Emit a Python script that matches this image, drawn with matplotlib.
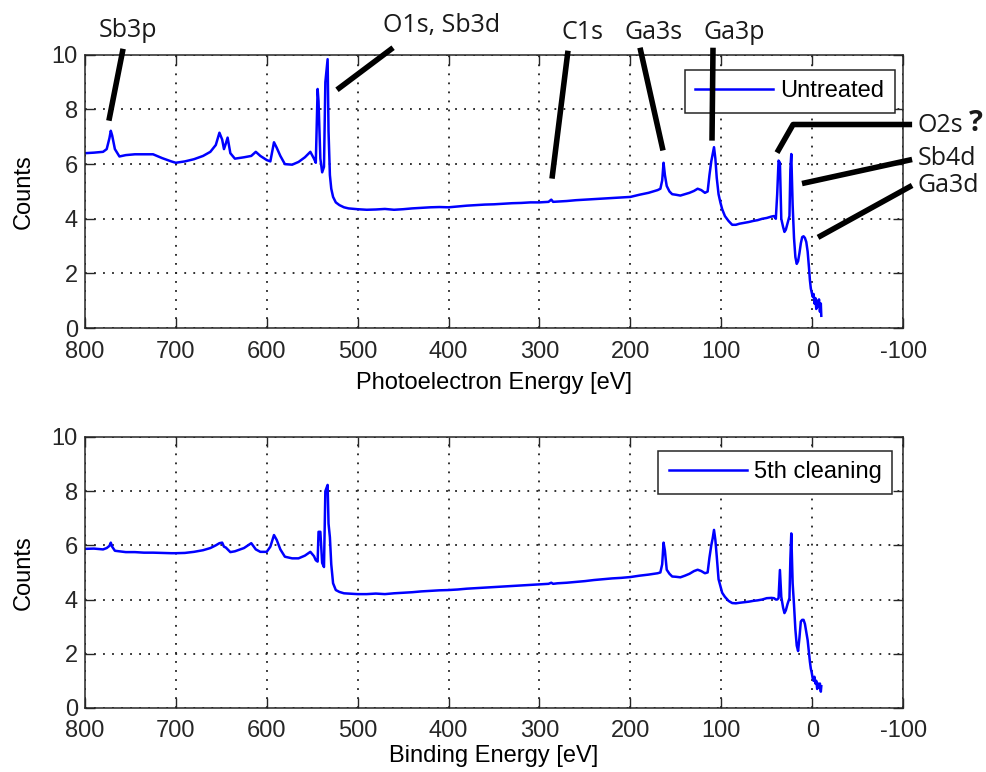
import matplotlib
matplotlib.use('Agg')
import matplotlib.pyplot as plt

plt.rcParams['font.family'] = 'Liberation Sans'
plt.rcParams['font.size'] = 17
plt.rcParams['axes.unicode_minus'] = False

# shared energy grid (eV)
energy = [800, 790, 780, 776, 773, 771.5, 770, 767, 762, 755, 745, 735, 725, 715, 705, 700,
          690, 680, 670, 662, 656, 652, 649, 647, 645, 643, 640, 635, 625, 617, 612, 607,
          600, 596, 592, 589, 585, 580, 572, 565, 558, 552, 548, 546, 544, 543, 541, 539,
          537, 535.5, 533, 532, 530.5, 529, 527, 524, 520, 515, 510, 500, 490, 480, 470, 460,
          450, 440, 430, 420, 410, 400, 390, 380, 370, 360, 350, 340, 330, 320, 310, 300,
          290, 287, 285, 280, 270, 260, 250, 240, 230, 220, 210, 200, 190, 180, 170, 167,
          165, 163.5, 162, 160, 157, 154, 150, 145, 140, 135, 130, 126, 122, 118, 115, 113,
          111, 109.5, 108, 106.5, 105, 103, 101, 99, 96, 92, 88, 84, 80, 75, 70, 65,
          60, 55, 50, 45, 42, 40, 38.5, 37, 35.5, 34, 32, 30.5, 29, 27, 25, 24,
          23, 21.5, 20, 18.5, 17, 15.5, 14, 12.5, 11, 9.5, 8, 6.5, 5, 3.5, 2.5, 1.5,
          0.5, -0.5, -1.5, -2.5, -3.5, -4.5, -5.5, -6.5, -7.5, -8.5, -9.5, -10]

untreated = [6.40, 6.42, 6.45, 6.55, 6.95, 7.22, 7.05, 6.55, 6.28, 6.33, 6.36, 6.36, 6.36, 6.22, 6.10, 6.05,
             6.10, 6.18, 6.30, 6.45, 6.70, 7.15, 6.90, 6.55, 6.75, 6.97, 6.40, 6.20, 6.25, 6.30, 6.45, 6.30,
             6.15, 6.10, 6.80, 6.60, 6.30, 6.00, 5.98, 6.08, 6.25, 6.45, 6.20, 6.05, 8.75, 8.30, 6.20, 5.70,
             5.90, 9.00, 9.84, 7.20, 5.60, 5.10, 4.80, 4.60, 4.50, 4.42, 4.38, 4.35, 4.33, 4.34, 4.36, 4.33,
             4.35, 4.38, 4.40, 4.42, 4.43, 4.42, 4.45, 4.48, 4.50, 4.52, 4.53, 4.55, 4.57, 4.58, 4.60, 4.60,
             4.62, 4.70, 4.62, 4.63, 4.65, 4.68, 4.70, 4.72, 4.74, 4.76, 4.78, 4.80, 4.88, 4.95, 5.05, 5.10,
             5.40, 6.05, 5.60, 5.20, 5.00, 4.90, 4.88, 4.85, 4.90, 4.95, 5.02, 5.10, 5.05, 4.95, 5.00, 5.60,
             6.10, 6.35, 6.62, 6.20, 5.50, 4.90, 4.60, 4.35, 4.10, 3.92, 3.78, 3.78, 3.82, 3.85, 3.88, 3.92,
             3.95, 4.00, 4.03, 4.08, 4.10, 4.00, 4.90, 6.13, 6.05, 4.00, 3.70, 3.52, 3.60, 3.85, 4.10, 5.80,
             6.37, 4.50, 3.30, 2.60, 2.35, 2.45, 2.75, 3.10, 3.33, 3.36, 3.30, 3.15, 2.80, 2.20, 1.75, 1.45,
             1.30, 1.15, 1.25, 0.90, 1.10, 0.70, 1.00, 0.80, 1.05, 0.60, 0.90, 0.45]

cleaned = [5.87, 5.88, 5.85, 5.90, 5.98, 6.10, 5.95, 5.80, 5.78, 5.75, 5.75, 5.73, 5.73, 5.72, 5.71, 5.71,
           5.72, 5.76, 5.82, 5.90, 6.00, 6.08, 6.10, 5.95, 5.92, 5.85, 5.75, 5.78, 5.90, 6.08, 5.85, 5.76,
           5.76, 5.95, 6.38, 6.20, 5.85, 5.58, 5.52, 5.52, 5.62, 5.76, 5.60, 5.45, 5.40, 6.50, 6.50, 5.35,
           5.20, 8.00, 8.23, 6.80, 6.30, 5.30, 4.60, 4.35, 4.28, 4.23, 4.22, 4.20, 4.20, 4.22, 4.20, 4.23,
           4.25, 4.27, 4.30, 4.32, 4.34, 4.35, 4.37, 4.40, 4.42, 4.44, 4.46, 4.48, 4.50, 4.52, 4.54, 4.56,
           4.58, 4.62, 4.58, 4.60, 4.62, 4.65, 4.68, 4.72, 4.75, 4.78, 4.80, 4.83, 4.88, 4.92, 4.97, 5.00,
           5.30, 6.10, 5.80, 5.10, 4.95, 4.85, 4.84, 4.82, 4.88, 4.95, 5.05, 5.10, 5.05, 4.97, 5.00, 5.55,
           6.00, 6.25, 6.57, 6.20, 5.60, 4.75, 4.50, 4.25, 4.10, 3.95, 3.87, 3.86, 3.88, 3.90, 3.92, 3.95,
           3.97, 4.00, 4.05, 4.06, 4.05, 4.00, 4.00, 4.05, 5.09, 4.10, 3.70, 3.50, 3.60, 3.85, 4.05, 5.50,
           6.44, 4.60, 3.80, 2.90, 2.30, 2.10, 2.60, 3.19, 3.25, 3.25, 3.10, 2.80, 2.50, 2.00, 1.70, 1.45,
           1.30, 1.10, 1.00, 1.15, 0.90, 1.00, 0.70, 0.90, 0.75, 0.90, 0.60, 0.80]

xticks = [800, 700, 600, 500, 400, 300, 200, 100, 0, -100]
yticks = [0, 2, 4, 6, 8, 10]

# peak labels: text, text position, leader line (energy, counts) points
labels = ['Sb3p', 'O1s, Sb3d', 'C1s', 'Ga3s', 'Ga3p']
label_pos = [(753, 10.88), (408, 11.09), (253, 10.8), (175, 10.8), (86, 10.8)]
leaders = [[(758, 10.22), (773.6, 7.59)],
           [(461, 10.26), (522.7, 8.72)],
           [(268.6, 10.15), (286.2, 5.47)],
           [(189.4, 10.26), (164.1, 6.5)],
           [(109.1, 10.26), (110.2, 6.86)]]
side_labels = ['O2s', 'Sb4d', 'Ga3d']
side_pos = [(-115.4, 7.41), (-116.5, 6.2), (-115.4, 5.22)]
side_leaders = [[(-109.9, 7.45), (21.0, 7.45), (38.7, 6.42)],
                [(-109.9, 6.17), (11.2, 5.29)],
                [(-109.9, 5.22), (-6.4, 3.32)]]

fig = plt.figure(figsize=(9.87, 7.72), dpi=100)
ax1 = fig.add_axes([0.086, 0.575, 0.829, 0.354])
ax2 = fig.add_axes([0.086, 0.083, 0.829, 0.351])

for ax, counts, name, xlabel, anchor, lpad in [
        (ax1, untreated, 'Untreated', 'Photoelectron Energy [eV]', (0.99, 0.945), 7),
        (ax2, cleaned, '5th cleaning', 'Binding Energy [eV]', (0.987, 0.949), 2)]:
    ax.plot(energy, counts, color='#0000ff', lw=1.8, label=name)
    ax.set_xlim(800, -100)
    ax.set_ylim(0, 10)
    ax.set_xticks(xticks)
    ax.set_yticks(yticks)
    ax.set_xlabel(xlabel, labelpad=lpad)
    ax.set_ylabel('Counts', labelpad=12)
    ax.grid(True, color='#202020', linestyle=(0, (1, 4)), linewidth=1.3)
    ax.tick_params(direction='in', length=7, width=1, top=True, right=True, colors='#262626')
    ax.tick_params(axis='x', pad=9)
    ax.tick_params(axis='y', pad=5)
    for s in ax.spines.values():
        s.set_color('#262626')
        s.set_linewidth(1.1)
    leg = ax.legend(loc='upper right', bbox_to_anchor=anchor, borderaxespad=0, fancybox=False,
                    framealpha=1, edgecolor='#262626', handlelength=3.3, handletextpad=0.3,
                    borderpad=0.45, fontsize=17)
    leg.get_frame().set_linewidth(1.1)
    leg.set_zorder(5)

txt = dict(family='Open Sans', fontsize=18, color='#1a1a1a', zorder=12)
for lab, pos, pts in zip(labels, label_pos, leaders):
    ax1.text(pos[0], pos[1], lab, ha='center', va='center', clip_on=False, **txt)
    ax1.plot([p[0] for p in pts], [p[1] for p in pts], color='black', lw=4, clip_on=False,
             solid_capstyle='butt', zorder=10)
for lab, pos, pts in zip(side_labels, side_pos, side_leaders):
    ax1.text(pos[0], pos[1], lab, ha='left', va='center', clip_on=False, **txt)
    ax1.plot([p[0] for p in pts], [p[1] for p in pts], color='black', lw=4, clip_on=False,
             solid_capstyle='butt', zorder=10)
ax1.text(-172, 7.5, '?', ha='left', va='center', family='Open Sans', fontsize=21,
         fontweight='bold', color='#1a1a1a', clip_on=False)

fig.savefig('out.png', dpi=100)
